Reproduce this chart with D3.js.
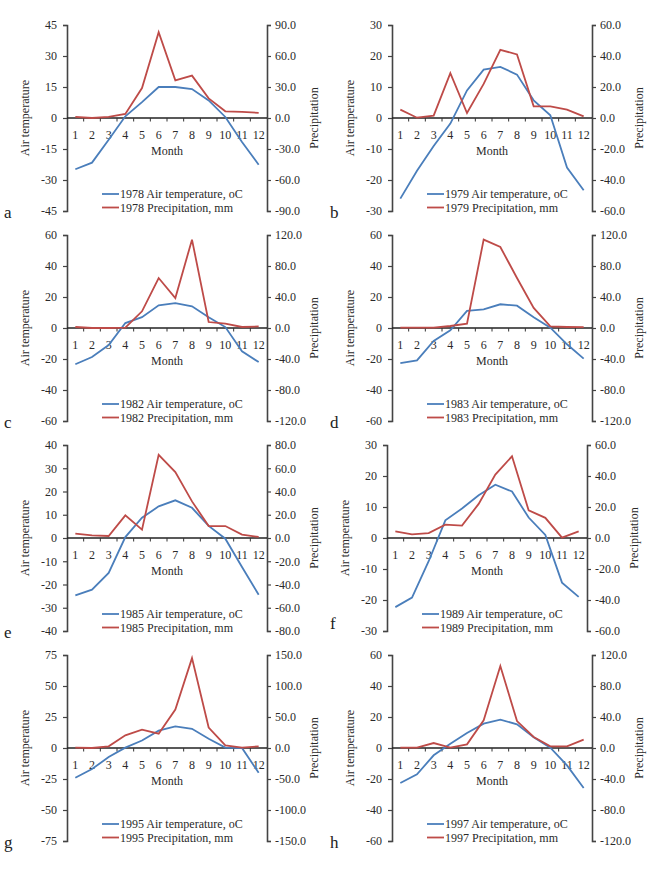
<!DOCTYPE html>
<html><head><meta charset="utf-8">
<script src="https://cdn.jsdelivr.net/npm/d3@7"></script>
<style>body{margin:0;background:#fff}svg{display:block}
svg text{font-family:"Liberation Serif","Times New Roman","DejaVu Serif",serif;}</style>
</head><body>
<script>
const months = ["1","2","3","4","5","6","7","8","9","10","11","12"];
const years = ["1978","1979","1982","1983","1985","1989","1995","1997"];
const panelLetters = ["a","b","c","d","e","f","g","h"];
const temp1978 = [-24.8,-21.6,-10.5,0.8,7.7,15,15,14,8.5,0.5,-11.6,-22.6];
const prec1978 = [1,0,1,4,29,83,36.5,41,19,6.5,6,5];
const temp1979 = [-26,-17,-9,-1.8,8.9,15.6,16.5,14,5.7,0.9,-16,-23.3];
const prec1979 = [5.4,0.2,1.5,29,3.2,22,44,41,7.5,7.5,5.4,1];
const temp1982 = [-23.4,-18.7,-11,3.2,7,14.6,16,14,7,0.6,-15,-22];
const prec1982 = [1.3,0,0,0.4,21.5,64.5,38.7,114,7.7,5.6,1.3,2];
const temp1983 = [-22.6,-20.9,-8.4,-1.5,11,12,15.3,14.4,7,0.2,-10.5,-19.8];
const prec1983 = [0.4,0.4,0.4,2.6,5.6,114,104.5,64.5,26,2,1.3,1];
const temp1985 = [-24.7,-22.2,-15,0.4,8.7,13.6,16.2,13,5.2,-0.3,-12.5,-24.4];
const prec1985 = [3.7,2.3,1.7,19.5,7.2,71.6,56.7,31.5,10.3,10.3,2.9,0.9];
const temp1989 = [-22.3,-19.2,-7.5,5.7,9.5,13.8,17.2,15,6.6,1,-14.4,-19];
const prec1989 = [4.3,2.4,3.2,8.6,8,22,40.9,52.7,17.8,13,0.2,4.3];
const temp1995 = [-24,-17,-7.3,0.3,6,14,17.5,15.5,7.5,0.3,0,-20];
const prec1995 = [0.5,0,2.7,20.4,29.6,23,62,145,33,4.3,0.5,2.7];
const temp1997 = [-22.6,-17,-4.7,2.8,9.7,15.7,18.3,15.3,7,0.2,-11.2,-25.8];
const prec1997 = [0.4,0.4,6.4,0.4,4.7,35.7,105.8,34.8,14.2,2.2,2.2,10.8];
const tempSeries = [temp1978,temp1979,temp1982,temp1983,temp1985,temp1989,temp1995,temp1997];
const precSeries = [prec1978,prec1979,prec1982,prec1983,prec1985,prec1989,prec1995,prec1997];
const tempMax = [45,30,60,60,40,30,75,60];
const tempStep = [15,10,20,20,10,10,25,20];

const W = 654, H = 884;
const svg = d3.select("body").append("svg").attr("width",W).attr("height",H);
const blue = "#4A7EBB", red = "#BE4B48", axisCol = "#444", txt = "#2a2a2a";
const fs = 12;

const colX = [67, 392];
const rowY = [25, 235, 445, 655];
const pw = 200, ph = 186;

years.forEach((yr, i) => {
  const col = i % 2, row = Math.floor(i / 2);
  const x0 = colX[col] - (i === 5 ? 5 : 0);
  const y0 = rowY[row];
  const g = svg.append("g").attr("transform", `translate(${x0},${y0})`);
  const tm = tempMax[i], st = tempStep[i];
  const yT = d3.scaleLinear().domain([-tm, tm]).range([ph, 0]);
  const yP = d3.scaleLinear().domain([-2*tm, 2*tm]).range([ph, 0]);
  const x = d3.scalePoint().domain(months).range([0, pw]).padding(0.5);
  const xb = d3.scaleBand().domain(months).range([0, pw]);
  const tTicks = d3.range(-tm, tm + 0.001, st);
  const pTicks = tTicks.map(v => v*2);

  const la = g.append("g").call(d3.axisLeft(yT).tickValues(tTicks).tickSize(4).tickPadding(6).tickFormat(d3.format("d")));
  const ra = g.append("g").attr("transform",`translate(${pw},0)`).call(d3.axisRight(yP).tickValues(pTicks).tickSize(4).tickPadding(4).tickFormat(d3.format(".1f")));
  [la, ra].forEach(a => {
    a.select(".domain").attr("stroke", axisCol).attr("stroke-width", 1.6);
    a.selectAll(".tick line").attr("stroke", axisCol).attr("stroke-width", 1.2);
    a.selectAll("text").attr("font-family", null).attr("font-size", fs).attr("fill", txt)
      .text(function(){ return d3.select(this).text().replace("−","-"); });
  });

  // zero line with small downward ticks at month boundaries
  g.append("line").attr("x1",0).attr("x2",pw).attr("y1",yT(0)).attr("y2",yT(0))
    .attr("stroke","#222").attr("stroke-width",1.3);
  g.selectAll(".zt").data(months.slice(1)).join("line").attr("class","zt")
    .attr("x1", d => xb(d)).attr("x2", d => xb(d)).attr("y1", yT(0)).attr("y2", yT(0) + 3.5)
    .attr("stroke","#333").attr("stroke-width",1);
  // month labels
  g.selectAll(".mlab").data(months).join("text").attr("class","mlab")
    .attr("x", d => x(d)).attr("y", yT(0) + 21).attr("text-anchor","middle")
    .attr("font-size", fs).attr("fill",txt).text(d => d);
  g.append("text").attr("x", pw/2).attr("y", yT(0) + 37).attr("text-anchor","middle")
    .attr("font-size", fs).attr("fill",txt).text("Month");

  // axis titles
  g.append("text").attr("transform", `translate(${-42},${ph/2}) rotate(-90)`).attr("text-anchor","middle")
    .attr("dy","0.35em").attr("font-size", fs).attr("fill",txt).text("Air temperature");
  g.append("text").attr("transform", `translate(${pw+47},${ph/2}) rotate(-90)`).attr("text-anchor","middle")
    .attr("dy","0.35em").attr("font-size", fs).attr("fill",txt).text("Precipitation");

  const lineT = d3.line().x((d,j) => x(months[j])).y(d => yT(d));
  const lineP = d3.line().x((d,j) => x(months[j])).y(d => yP(d));
  g.append("path").datum(tempSeries[i]).attr("d", lineT).attr("fill","none").attr("stroke", blue).attr("stroke-width", 1.8);
  g.append("path").datum(precSeries[i]).attr("d", lineP).attr("fill","none").attr("stroke", red).attr("stroke-width", 1.8);

  // legend
  const lg = g.append("g").attr("transform", `translate(35,${ph-17})`);
  [[blue, yr + " Air temperature, oC"], [red, yr + " Precipitation, mm"]].forEach((e, k) => {
    lg.append("line").attr("x1",0).attr("x2",17).attr("y1",k*13.5).attr("y2",k*13.5).attr("stroke",e[0]).attr("stroke-width",1.8);
    lg.append("text").attr("x",18).attr("y",k*13.5).attr("dy","0.35em")
      .attr("font-size", fs).attr("fill",txt).text(e[1]);
  });

  // panel letter
  svg.append("text").attr("x", col === 0 ? 4 : 330).attr("y", y0 + ph + (i === 5 ? -2 : 7))
    .attr("font-size", 17).attr("fill","#222").text(panelLetters[i]);
});
</script>
</body></html>
